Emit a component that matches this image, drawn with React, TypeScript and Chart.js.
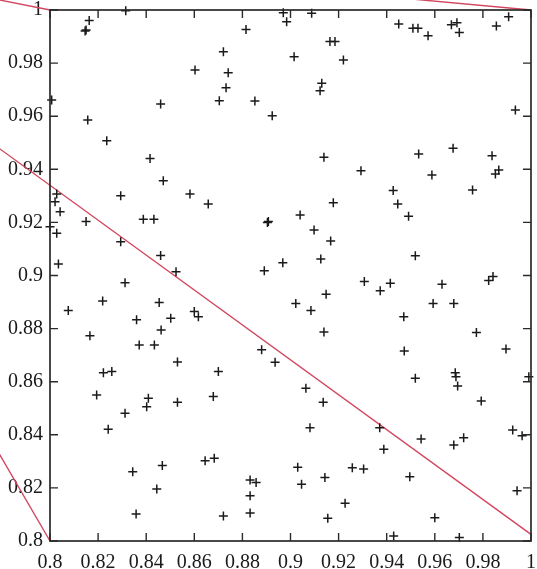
import React, { useEffect, useRef } from "react";
import { Chart, registerables } from "chart.js";

Chart.register(...registerables);

// Axis ticks (both axes share the same range 0.8 … 1 in steps of 0.02)
const X_TICKS = [0.8, 0.82, 0.84, 0.86, 0.88, 0.9, 0.92, 0.94, 0.96, 0.98, 1];
const X_TICK_LABELS = ["0.8", "0.82", "0.84", "0.86", "0.88", "0.9", "0.92", "0.94", "0.96", "0.98", "1"];
const Y_TICKS = [0.8, 0.82, 0.84, 0.86, 0.88, 0.9, 0.92, 0.94, 0.96, 0.98, 1];
const Y_TICK_LABELS = ["0.8", "0.82", "0.84", "0.86", "0.88", "0.9", "0.92", "0.94", "0.96", "0.98", "1"];

// Sample points (x_i, y_i)
const POINT_X = [
  0.8163, 0.815, 0.8146, 0.8315, 0.8007, 0.846, 0.8157, 0.8236, 0.8416, 0.8471,
  0.897, 0.8984, 0.9088, 0.8815, 0.8721, 0.9164, 0.9185, 0.9015, 0.922, 0.8603,
  0.8741, 0.8732, 0.913, 0.9123, 0.8704, 0.8852, 0.8924, 0.9139, 0.9293,
  0.945, 0.9509, 0.953, 0.9572, 0.9669, 0.9692, 0.9702, 0.9856, 0.9907, 0.9935,
  0.9533, 0.9676, 0.9838, 0.9588, 0.9852, 0.9866, 0.9427, 0.9757,
  0.8028, 0.8021, 0.8042, 0.8, 0.8028, 0.8035, 0.8076, 0.815, 0.8294, 0.8294,
  0.8388, 0.8432, 0.846, 0.8524, 0.8312, 0.8219, 0.8454, 0.836, 0.8502, 0.8462,
  0.8166, 0.8371, 0.8434, 0.853, 0.8222, 0.8257,
  0.8582, 0.8658, 0.9178, 0.8904, 0.8908, 0.904, 0.9098, 0.9167, 0.8968, 0.8891,
  0.9126, 0.9148, 0.9022, 0.9085, 0.9139, 0.86, 0.8617, 0.888, 0.8936, 0.87,
  0.9446, 0.9491, 0.9519, 0.9307, 0.9373, 0.9415, 0.963, 0.9824, 0.9842, 0.9593,
  0.9679, 0.9471, 0.9773, 0.9896, 0.9473, 0.9519, 0.9685, 0.9688, 0.9991,
  0.8194, 0.8242, 0.8312, 0.8409, 0.8402, 0.853, 0.8344, 0.8467, 0.8444, 0.8358,
  0.8679, 0.9064, 0.9136, 0.9081, 0.8645, 0.8683, 0.903, 0.9257, 0.9143, 0.8832,
  0.8857, 0.9046, 0.8832, 0.9227, 0.8721, 0.8832, 0.9155,
  0.9695, 0.9793, 0.9371, 0.9388, 0.9543, 0.9679, 0.972, 0.9924, 0.9963, 0.9304,
  0.9496, 0.9942, 0.96, 0.9429, 0.9702,
];
const POINT_Y = [
  0.996, 0.9925, 0.9921, 0.9997, 0.9661, 0.9646, 0.9586, 0.9508, 0.9441, 0.9357,
  0.999, 0.9956, 0.9988, 0.9927, 0.9843, 0.9881, 0.9881, 0.9824, 0.9812, 0.9774,
  0.9764, 0.9707, 0.9724, 0.9696, 0.9658, 0.9657, 0.9602, 0.9445, 0.9395,
  0.9947, 0.9931, 0.9931, 0.9903, 0.9944, 0.9952, 0.9915, 0.994, 0.9975, 0.9623,
  0.9458, 0.9479, 0.9451, 0.9379, 0.9382, 0.9397, 0.932, 0.9322,
  0.9307, 0.9278, 0.924, 0.9184, 0.9159, 0.9043, 0.8868, 0.9203, 0.93, 0.9127,
  0.9212, 0.9212, 0.9075, 0.9014, 0.8973, 0.8904, 0.8898, 0.8833, 0.8839, 0.8795,
  0.8773, 0.8738, 0.8738, 0.8674, 0.8634, 0.8638,
  0.9307, 0.9269, 0.9274, 0.92, 0.9203, 0.9228, 0.9171, 0.913, 0.9048, 0.9018,
  0.9062, 0.8929, 0.8895, 0.8868, 0.8787, 0.8864, 0.8845, 0.872, 0.8673, 0.8638,
  0.9269, 0.9223, 0.9074, 0.8977, 0.8943, 0.8971, 0.8967, 0.8981, 0.8996, 0.8895,
  0.8895, 0.8845, 0.8785, 0.8723, 0.8716, 0.8613, 0.8634, 0.8619, 0.8619,
  0.855, 0.8421, 0.8481, 0.8538, 0.8506, 0.8523, 0.8261, 0.8284, 0.8196, 0.8102,
  0.8544, 0.8575, 0.8523, 0.8427, 0.8302, 0.8312, 0.8278, 0.8276, 0.8239, 0.823,
  0.822, 0.8214, 0.817, 0.8142, 0.8094, 0.8105, 0.8086,
  0.8584, 0.8527, 0.8427, 0.8346, 0.8384, 0.8362, 0.8389, 0.8418, 0.8396, 0.8271,
  0.8242, 0.8189, 0.8088, 0.8019, 0.8013,
];

// Straight reference lines, each given by its two end points
const LINE_A_X = [0.77, 0.8];
const LINE_A_Y = [1.0054, 1.0];
const LINE_B_X = [0.77, 1.0];
const LINE_B_Y = [0.9537, 0.8025];
const LINE_C_X = [0.77, 0.8];
const LINE_C_Y = [0.8467, 0.8];
const LINE_D_X = [0.94, 1.0];
const LINE_D_Y = [1.005, 1.0];

const LINE_COLOR = "#d2465e";
const INK = "#1a1a1a";
const FONT_FAMILY = '"Liberation Serif", "Times New Roman", serif';

const toXY = (xs: number[], ys: number[]) => xs.map((x, i) => ({ x, y: ys[i] }));

const lineDataset = (xs: number[], ys: number[]) => ({
  type: "scatter" as const,
  data: toXY(xs, ys),
  showLine: true,
  borderColor: LINE_COLOR,
  borderWidth: 1.4,
  pointRadius: 0,
  clip: false as const,
  order: 2,
});

// Closed frame with inward tick marks on all four sides
const frameTicksPlugin = {
  id: "frameTicks",
  afterDatasetsDraw(chart: any) {
    const { ctx, chartArea: a, scales } = chart;
    const xs = scales.x;
    const ys = scales.y;
    const len = 8;
    ctx.save();
    ctx.strokeStyle = "#2a2a2a";
    ctx.lineWidth = 1.7;
    ctx.strokeRect(a.left, a.top, a.right - a.left, a.bottom - a.top);
    ctx.lineWidth = 1.4;
    ctx.beginPath();
    X_TICKS.forEach((v) => {
      const px = xs.getPixelForValue(v);
      ctx.moveTo(px, a.bottom);
      ctx.lineTo(px, a.bottom - len);
      ctx.moveTo(px, a.top);
      ctx.lineTo(px, a.top + len);
    });
    Y_TICKS.forEach((v) => {
      const py = ys.getPixelForValue(v);
      ctx.moveTo(a.left, py);
      ctx.lineTo(a.left + len, py);
      ctx.moveTo(a.right, py);
      ctx.lineTo(a.right - len, py);
    });
    ctx.stroke();
    ctx.restore();
  },
};

export default function App() {
  const canvasRef = useRef<HTMLCanvasElement | null>(null);

  useEffect(() => {
    if (!canvasRef.current) return;
    const tickFont = { family: FONT_FAMILY, size: 20, lineHeight: 1 };
    const chart = new Chart(canvasRef.current, {
      type: "scatter",
      data: {
        datasets: [
          {
            data: toXY(POINT_X, POINT_Y),
            pointStyle: "cross",
            pointRadius: 4.5,
            pointBorderColor: INK,
            pointBorderWidth: 1.5,
            pointBackgroundColor: INK,
            clip: false,
            order: 1,
          },
          lineDataset(LINE_A_X, LINE_A_Y),
          lineDataset(LINE_B_X, LINE_B_Y),
          lineDataset(LINE_C_X, LINE_C_Y),
          lineDataset(LINE_D_X, LINE_D_Y),
        ] as any,
      },
      options: {
        responsive: false,
        animation: false,
        events: [],
        layout: { padding: { left: 0, top: 10, right: 6, bottom: 0 } },
        plugins: {
          legend: { display: false },
          tooltip: { enabled: false },
        },
        scales: {
          x: {
            type: "linear",
            min: 0.8,
            max: 1,
            afterBuildTicks: (s: any) => {
              s.ticks = X_TICKS.map((value) => ({ value }));
            },
            afterFit: (s: any) => {
              s.height = 28;
              s.paddingLeft = 0;
              s.paddingRight = 0;
            },
            ticks: {
              callback: (_v: any, i: number) => X_TICK_LABELS[i],
              font: tickFont,
              color: INK,
              padding: 12,
              maxRotation: 0,
              autoSkip: false,
            },
            grid: { display: false, drawTicks: false },
            border: { display: false },
          },
          y: {
            type: "linear",
            min: 0.8,
            max: 1,
            afterBuildTicks: (s: any) => {
              s.ticks = Y_TICKS.map((value) => ({ value }));
            },
            afterFit: (s: any) => {
              s.width = 50;
              s.paddingTop = 0;
              s.paddingBottom = 0;
            },
            ticks: {
              callback: (_v: any, i: number) => Y_TICK_LABELS[i],
              font: tickFont,
              color: INK,
              padding: 7,
              autoSkip: false,
            },
            grid: { display: false, drawTicks: false },
            border: { display: false },
          },
        },
      } as any,
      plugins: [frameTicksPlugin],
    });
    return () => chart.destroy();
  }, []);

  return (
    <div style={{ position: "absolute", left: 0, top: 0, width: 537, height: 569, background: "#fff" }}>
      <canvas ref={canvasRef} width={537} height={569} style={{ display: "block" }} />
    </div>
  );
}
